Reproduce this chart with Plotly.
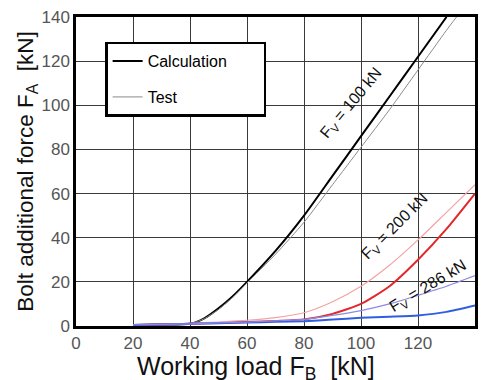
import plotly.graph_objects as go

# Working load F_B [kN]
fb = [20, 30, 40, 50, 60, 70, 80, 90, 100, 110, 120, 130, 140]

# Bolt additional force F_A [kN], preload F_V = 100 kN
calc_100_x = [20, 30, 40, 45, 50, 55, 60, 70, 80, 90, 100, 110, 120, 130]
calc_100 = [0.5, 0.7, 1.0, 3.5, 8.0, 13.5, 20.0, 34.0, 50.0, 68.0, 86.0, 104.0, 122.0, 140.0]
test_100_x = [20, 30, 40, 45, 50, 55, 60, 70, 80, 90, 100, 110, 120, 130, 133.5]
test_100 = [0.5, 0.7, 1.0, 3.3, 7.5, 13.0, 19.5, 32.5, 47.0, 64.0, 81.0, 98.0, 116.0, 134.0, 140.0]

# preload F_V = 200 kN
calc_200 = [0.5, 0.7, 1.0, 1.4, 1.8, 2.3, 3.0, 5.5, 10.0, 18.0, 30.0, 44.0, 60.0]
test_200 = [0.5, 0.8, 1.2, 1.8, 2.6, 3.8, 6.0, 11.0, 18.0, 27.5, 39.0, 51.5, 64.0]

# preload F_V = 286 kN
calc_286 = [0.5, 0.7, 1.0, 1.3, 1.6, 1.9, 2.2, 2.9, 3.7, 4.2, 4.8, 6.4, 9.3]
test_286 = [0.5, 0.7, 1.0, 1.4, 1.8, 2.3, 3.0, 4.8, 7.0, 10.0, 13.9, 18.0, 22.8]

font = "Liberation Sans, Arial, sans-serif"
pad = "\u00a0" * 7

fig = go.Figure()

series = [
    (calc_100_x, calc_100, "#000000", 2, "Calculation" + pad, True),
    (test_100_x, test_100, "#8a8a8a", 1, "Test", True),
    (fb, calc_200, "#e3282a", 2, None, False),
    (fb, test_200, "#f2a3a3", 1.2, None, False),
    (fb, calc_286, "#2f5fe0", 2, None, False),
    (fb, test_286, "#8c8ae6", 1.2, None, False),
]
for i, (x, y, color, width, name, show) in enumerate(series):
    fig.add_trace(go.Scatter(
        x=x, y=y, mode="lines", name=name, showlegend=show, legendgroup=f"g{i}",
        line=dict(color=color, width=width, shape="spline", smoothing=0.6),
    ))

labels = [
    (96.5, 101, "F<sub>V</sub> = 100 kN", -50),
    (112, 45, "F<sub>V</sub> = 200 kN", -45),
    (123.5, 18, "F<sub>V</sub> = 286 kN", -31),
]
for x, y, text, angle in labels:
    fig.add_annotation(x=x, y=y, text=text, textangle=angle, showarrow=False,
                       font=dict(family=font, size=16, color="#111"))

# x-axis title placed below the tick labels
fig.add_annotation(xref="paper", yref="paper", x=0.451, y=-0.077,
                   xanchor="center", yanchor="top", showarrow=False,
                   text="Working load F<sub>B</sub>  [kN]",
                   font=dict(family=font, size=25, color="#111"))

axis_common = dict(
    showgrid=True, gridcolor="#3a3a3a", gridwidth=1,
    showline=True, linecolor="#000000", linewidth=2.5, mirror=True,
    ticks="", zeroline=False, automargin=False,
    tickfont=dict(family=font, size=17, color="#555555"),
    dtick=20,
)

fig.update_xaxes(range=[0, 140], **axis_common)
fig.update_yaxes(range=[0, 140], title=dict(text="Bolt additional force F<sub>A</sub>  [kN]",
                 font=dict(family=font, size=22.5, color="#111"), standoff=2), **axis_common)

fig.update_layout(
    width=484, height=380,
    margin=dict(l=76, r=9, t=17, b=54),
    paper_bgcolor="white", plot_bgcolor="white",
    legend=dict(x=0.073, y=0.92, xanchor="left", yanchor="top",
                bordercolor="#000", borderwidth=2.5, bgcolor="white",
                font=dict(family=font, size=16, color="#000"),
                traceorder="grouped", tracegroupgap=12, itemwidth=30),
)

fig.write_html("out.html")
